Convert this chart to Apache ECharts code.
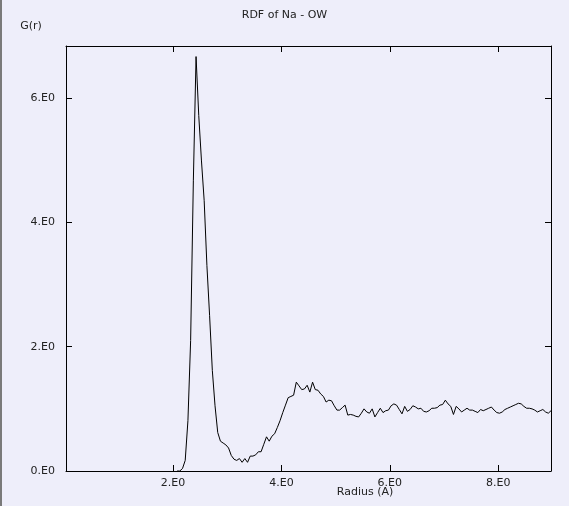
<!DOCTYPE html>
<html>
<head>
<meta charset="utf-8">
<script src="https://cdn.jsdelivr.net/npm/echarts@6/dist/echarts.min.js"></script>
<style>
html,body{margin:0;padding:0;background:#EEEEFA;}
#chart{width:569px;height:506px;}
</style>
</head>
<body>
<div id="chart"></div>
<script>
// Radius bins (Å): bin centres, starting where the curve leaves the axis
const binStart = 2.075;
const binWidth = 0.05;

// G(r) values, one per bin
const gValues = [
  0,0,0.04,0.17,0.81,2.10,4.67,6.67,5.72,
  4.99,4.35,3.31,2.50,1.62,1.05,0.62,0.48,0.45,0.42,
  0.37,0.25,0.19,0.17,0.20,0.14,0.20,0.14,0.24,0.24,
  0.26,0.31,0.31,0.43,0.55,0.48,0.56,0.60,0.70,0.81,
  0.94,1.06,1.18,1.20,1.22,1.43,1.37,1.31,1.32,1.38,
  1.27,1.43,1.31,1.30,1.24,1.20,1.11,1.14,1.13,1.05,
  0.98,0.98,1.02,1.06,0.90,0.91,0.90,0.88,0.87,0.93,
  1.00,0.95,0.93,1.00,0.87,0.94,1.01,0.94,0.97,0.98,
  1.05,1.08,1.06,0.99,0.92,1.04,0.96,0.99,1.05,1.03,
  1.00,1.01,0.96,0.95,0.97,1.01,1.01,1.02,1.06,1.07,
  1.14,1.08,1.04,0.91,1.04,1.00,0.95,0.98,1.01,0.98,
  0.98,0.96,0.94,0.99,0.97,0.99,1.01,1.03,0.98,0.94,
  0.93,0.95,0.99,1.01,1.03,1.05,1.07,1.09,1.08,1.04,
  1.01,1.01,1.00,0.98,0.95,0.97,0.99,0.95,0.93,0.97
];

const xTickValues = [2, 4, 6, 8];
const xTickLabels = ['2.E0', '4.E0', '6.E0', '8.E0'];
const yTickValues = [0, 2, 4, 6];
const yTickLabels = ['0.E0', '2.E0', '4.E0', '6.E0'];

const titleText = 'RDF of Na - OW';
const xName = 'Radius (A)';
const yName = 'G(r)';

const xMin = 0.025, xMax = 8.975, yMin = 0, yMax = 6.84;

const seriesData = gValues.map((g, i) => [binStart + binWidth * i, g]);

const font = 'DejaVu Sans';
const txtColor = '#222';
const lineColor = '#000';

function labelFor(values, labels) {
  return v => {
    for (let i = 0; i < values.length; i++) if (Math.abs(values[i] - v) < 1e-9) return labels[i];
    return '';
  };
}

const chart = echarts.init(document.getElementById('chart'), null, {renderer: 'canvas'});

const baseX = {
  type: 'value', min: xMin, max: xMax,
  splitLine: {show: false},
  axisLine: {show: true, onZero: false, lineStyle: {color: lineColor, width: 1}},
};
const baseY = {
  type: 'value', min: yMin, max: yMax,
  splitLine: {show: false},
  axisLine: {show: true, onZero: false, lineStyle: {color: lineColor, width: 1}},
};

chart.setOption({
  backgroundColor: '#EEEEFA',
  animation: false,
  title: {
    text: titleText, left: 'center', top: 5,
    textStyle: {fontFamily: font, fontSize: 11, fontWeight: 'normal', color: txtColor}
  },
  grid: {left: 66, top: 46, width: 485, height: 425, containLabel: false},
  xAxis: [
    Object.assign({}, baseX, {
      position: 'bottom',
      axisTick: {show: true, inside: true, length: 6, customValues: xTickValues, lineStyle: {color: lineColor}},
      axisLabel: {show: true, customValues: xTickValues, margin: 7, formatter: labelFor(xTickValues, xTickLabels),
        fontFamily: font, fontSize: 11, color: txtColor}
    }),
    Object.assign({}, baseX, {
      position: 'top',
      axisTick: {show: true, inside: true, length: 6, customValues: xTickValues, lineStyle: {color: lineColor}},
      axisLabel: {show: false}
    })
  ],
  yAxis: [
    Object.assign({}, baseY, {
      position: 'left',
      axisTick: {show: true, inside: true, length: 6, customValues: yTickValues, lineStyle: {color: lineColor}},
      axisLabel: {show: true, customValues: yTickValues, margin: 11, formatter: labelFor(yTickValues, yTickLabels),
        fontFamily: font, fontSize: 11, color: txtColor}
    }),
    Object.assign({}, baseY, {
      position: 'right',
      axisTick: {show: true, inside: true, length: 6, customValues: yTickValues, lineStyle: {color: lineColor}},
      axisLabel: {show: false}
    })
  ],
  graphic: [
    {type: 'rect', left: 0, top: 0, shape: {width: 2, height: 506}, style: {fill: '#7a7a7a'}, silent: true},
    {type: 'text', x: 31, y: 26, style: {text: yName, fontFamily: font, fontSize: 11, fill: txtColor, align: 'center', verticalAlign: 'middle'}},
    {type: 'text', x: 365, y: 492, style: {text: xName, fontFamily: font, fontSize: 11, fill: txtColor, align: 'center', verticalAlign: 'middle'}}
  ],
  series: [{
    type: 'line',
    xAxisIndex: 0, yAxisIndex: 0,
    data: seriesData,
    showSymbol: false,
    symbol: 'none',
    lineStyle: {color: lineColor, width: 1},
    clip: true
  }]
});
</script>
</body>
</html>
